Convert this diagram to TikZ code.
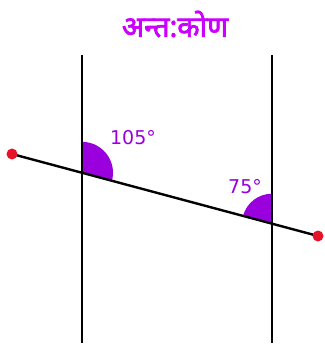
\documentclass[tikz,border=0pt]{standalone}
\usepackage{fontspec}
\setmainfont{DejaVu Sans}
\newfontfamily\devfont[Script=Devanagari, FakeBold=2.5]{Noto Sans}
\definecolor{anglefill}{RGB}{153,0,221}
\definecolor{titlecol}{RGB}{204,0,255}
\definecolor{dotred}{RGB}{230,20,40}
\tikzset{
    endpt/.style={circle, fill=dotred, inner sep=0pt, minimum size=11pt},
    anglabel/.style={text=anglefill, font=\fontsize{19}{21}\selectfont}
}
\begin{document}
\begin{tikzpicture}[x=1pt, y=-1pt]
                \useasboundingbox (0,0) rectangle (324,347);
                \node[text=titlecol, font=\devfont\fontsize{29}{32}\selectfont] (title) at (175,24) {अन्त:कोण};
                % parallel lines
                \coordinate (lt) at (82,55);
                \coordinate (lb) at (82,343);
                \coordinate (rt) at (272,55);
                \coordinate (rb) at (272,343);
                \coordinate (A) at (82,172.8);
                \coordinate (B) at (272,223.7);
                % angles
                \fill[anglefill] (A) -- ++(-90:31) arc[start angle=-90, end angle=15, radius=31] -- cycle;
                \fill[anglefill] (B) -- ++(-90:30) arc[start angle=-90, end angle=-165, radius=30] -- cycle;
                \draw[-, line width=2.4pt] (lt) -- (lb);
                \draw[-, line width=2.4pt] (rt) -- (rb);
                % transversal
                \coordinate (pe) at (12,154);
                \coordinate (qe) at (318,236);
                \draw[-, line width=2.4pt] (pe) -- (qe);
                \node[endpt] (p) at (pe) {};
                \node[endpt] (q) at (qe) {};
                \node[anglabel] (big) at (133,138) {105°};
                \node[anglabel] (small) at (245,187) {75°};
            \end{tikzpicture}
\end{document}
